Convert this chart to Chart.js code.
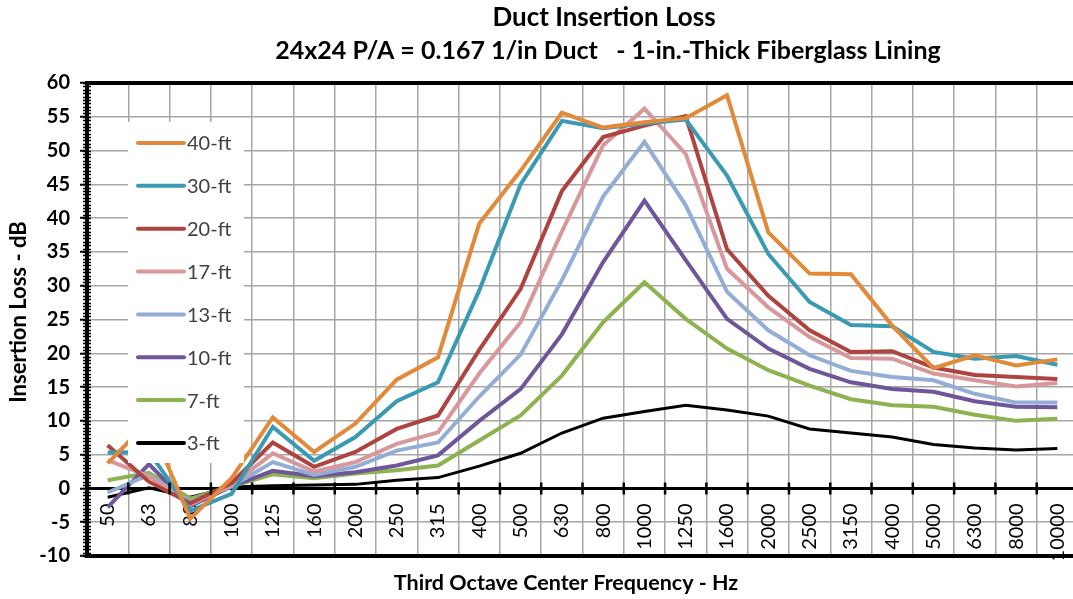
<!DOCTYPE html>
<html>
<head>
<meta charset="utf-8">
<title>Duct Insertion Loss</title>
<script src="https://cdn.jsdelivr.net/npm/chart.js@4.4.1/dist/chart.umd.min.js"></script>
<style>
    html, body { margin: 0; padding: 0; background: #fff; overflow: hidden; }
    #wrap { width: 1082px; height: 599px; }
</style>
</head>
<body>
<div id="wrap"><canvas id="lossChart" width="1082" height="599"></canvas></div>
<script>
// 数据
const categories = ['50', '63', '80', '100', '125', '160', '200', '250', '315', '400', '500', '630',
    '800', '1000', '1250', '1600', '2000', '2500', '3150', '4000', '5000', '6300', '8000', '10000'];

const loss40ft = [3.7, 10.0, -4.5, 1.5, 10.5, 5.4, 9.6, 16.1, 19.4, 39.2, 47.0, 55.6,
    53.4, 54.2, 54.8, 58.2, 37.9, 31.8, 31.7, 24.1, 17.8, 19.7, 18.2, 19.1];
const loss30ft = [5.3, 5.4, -3.3, -0.8, 9.1, 4.1, 7.6, 12.9, 15.7, 29.3, 45.0, 54.4,
    53.3, 54.0, 54.6, 46.3, 34.7, 27.6, 24.2, 24.0, 20.2, 19.2, 19.6, 18.3];
const loss20ft = [6.4, 1.0, -2.2, 0.8, 6.8, 3.2, 5.4, 8.8, 10.8, 20.5, 29.5, 44.0,
    52.0, 53.7, 55.1, 35.4, 28.5, 23.4, 20.2, 20.3, 17.9, 16.8, 16.5, 16.2];
const loss17ft = [4.2, 1.8, -2.4, 0.5, 5.2, 2.5, 3.9, 6.6, 8.3, 17.0, 24.6, 38.0,
    50.8, 56.2, 49.5, 32.5, 26.8, 22.4, 19.3, 19.2, 17.0, 16.0, 15.1, 15.6];
const loss13ft = [-0.6, 2.0, -2.0, 0.3, 3.9, 2.0, 3.2, 5.6, 6.8, 13.6, 19.8, 30.8,
    43.2, 51.3, 41.9, 29.1, 23.4, 19.7, 17.4, 16.5, 16.0, 14.0, 12.7, 12.7];
const loss10ft = [-2.8, 3.6, -2.6, 0.3, 2.6, 1.8, 2.4, 3.4, 4.9, 10.0, 14.7, 22.8,
    33.5, 42.6, 33.8, 25.1, 20.7, 17.7, 15.7, 14.7, 14.3, 12.9, 12.1, 12.0];
const loss7ft = [1.2, 2.3, -1.5, 0.3, 2.1, 1.5, 2.2, 2.7, 3.4, 7.1, 10.8, 16.7,
    24.6, 30.5, 25.1, 20.7, 17.5, 15.2, 13.2, 12.3, 12.1, 10.9, 10.0, 10.3];
const loss3ft = [-1.3, 0.1, -1.3, 0.2, 0.4, 0.5, 0.6, 1.2, 1.6, 3.3, 5.2, 8.2,
    10.4, 11.4, 12.3, 11.6, 10.7, 8.8, 8.2, 7.6, 6.5, 6.0, 5.7, 5.9];

const seriesLabels = ['40-ft', '30-ft', '20-ft', '17-ft', '13-ft', '10-ft', '7-ft', '3-ft'];
const seriesColors = ['#E2893A', '#3A9AB2', '#AD4440', '#D8979A', '#93AED6', '#6F559A', '#8DB250', '#000000'];
const seriesData = [loss40ft, loss30ft, loss20ft, loss17ft, loss13ft, loss10ft, loss7ft, loss3ft];

const yTicksMin = -10;
const yTicksMax = 60;
const yTickStep = 5;

const FONT = 'Lato, "Open Sans", sans-serif';

// 图框、图例、标题
const decorPlugin = {
    id: 'decor',
    afterDatasetsDraw(chart) {
        const { ctx, chartArea: a, scales } = chart;
        const x = scales.x, y = scales.y;
        ctx.save();

        // 上下粗边框
        ctx.strokeStyle = '#000';
        ctx.lineWidth = 4;
        ctx.beginPath();
        ctx.moveTo(a.left - 2, a.top);
        ctx.lineTo(a.right + 2, a.top);
        ctx.moveTo(a.left - 2, a.bottom);
        ctx.lineTo(a.right + 2, a.bottom);
        ctx.stroke();

        // y轴次刻度
        ctx.lineWidth = 1.5;
        ctx.beginPath();
        for (let v = yTicksMin; v <= yTicksMax; v += 0.5) {
            const py = Math.round(y.getPixelForValue(v)) + 0.5;
            ctx.moveTo(a.left - 4, py);
            ctx.lineTo(a.left + 4, py);
        }
        ctx.stroke();

        // x轴刻度
        const y0 = y.getPixelForValue(0);
        ctx.lineWidth = 2.5;
        ctx.beginPath();
        for (let i = 0; i <= categories.length; i++) {
            const px = x.getPixelForValue(i - 0.5);
            ctx.moveTo(px, y0 - 6);
            ctx.lineTo(px, y0 + 6);
        }
        ctx.stroke();

        // 图例
        const lx = a.left + 41, ly = 122;
        ctx.fillStyle = '#fff';
        ctx.fillRect(lx, ly, 116, 341);
        ctx.font = '20px ' + FONT;
        ctx.textBaseline = 'middle';
        ctx.textAlign = 'left';
        chart.data.datasets.forEach((ds, i) => {
            const ey = 143 + i * 42.85;
            ctx.strokeStyle = ds.borderColor;
            ctx.lineWidth = 4;
            ctx.lineCap = 'round';
            ctx.beginPath();
            ctx.moveTo(lx + 10, ey);
            ctx.lineTo(lx + 56, ey);
            ctx.stroke();
            ctx.fillStyle = '#404040';
            ctx.fillText(ds.label, lx + 59, ey + 1);
        });
        ctx.restore();
    },
    afterDraw(chart) {
        const { ctx } = chart;
        ctx.save();
        ctx.fillStyle = '#000';
        ctx.textAlign = 'center';
        ctx.textBaseline = 'middle';
        ctx.font = 'bold 26px ' + FONT;
        ctx.fillText('Duct Insertion Loss', 604, 18);
        ctx.font = 'bold 25px ' + FONT;
        ctx.fillText('24x24 P/A = 0.167 1/in Duct   - 1-in.-Thick Fiberglass Lining', 608, 51);

        ctx.font = 'bold 21.5px ' + FONT;
        ctx.fillText('Third Octave Center Frequency - Hz', 566, 583);

        ctx.translate(19, 312);
        ctx.rotate(-Math.PI / 2);
        ctx.font = 'bold 22px ' + FONT;
        ctx.fillText('Insertion Loss - dB', 0, 0);
        ctx.restore();
    }
};

// 初始化图表
const ctx = document.getElementById('lossChart').getContext('2d');
const lossChart = new Chart(ctx, {
    type: 'line',
    data: {
        labels: categories,
        datasets: seriesLabels.map((label, i) => ({
            label: label,
            data: seriesData[i],
            borderColor: seriesColors[i],
            backgroundColor: seriesColors[i],
            borderWidth: i === 7 ? 3 : 4,
            pointRadius: 0,
            tension: 0,
            fill: false
        }))
    },
    options: {
        responsive: false,
        devicePixelRatio: 1,
        animation: false,
        layout: {
            padding: { top: 83, right: 4, bottom: 43, left: 0 }
        },
        plugins: {
            legend: { display: false },
            title: { display: false },
            tooltip: { enabled: false }
        },
        scales: {
            x: {
                position: { y: 0 },
                offset: true,
                afterFit: scale => { scale.paddingLeft = 0; scale.paddingRight = 0; },
                grid: {
                    offset: true,
                    color: '#a6a6a6',
                    lineWidth: 1.5,
                    drawTicks: false
                },
                border: { color: '#000', width: 3 },
                ticks: {
                    autoSkip: false,
                    minRotation: 90,
                    maxRotation: 90,
                    padding: 15,
                    color: '#000',
                    font: { family: FONT, size: 20 }
                }
            },
            y: {
                min: yTicksMin,
                max: yTicksMax,
                afterFit: scale => { scale.width = 87; },
                grid: {
                    color: '#a6a6a6',
                    lineWidth: 1.5,
                    tickColor: '#000',
                    tickLength: 7,
                    tickWidth: 2
                },
                border: { color: '#000', width: 4 },
                ticks: {
                    stepSize: yTickStep,
                    padding: 10,
                    color: '#000',
                    font: { family: FONT, size: 20, weight: 'bold' }
                }
            }
        }
    },
    plugins: [decorPlugin]
});
</script>
</body>
</html>
